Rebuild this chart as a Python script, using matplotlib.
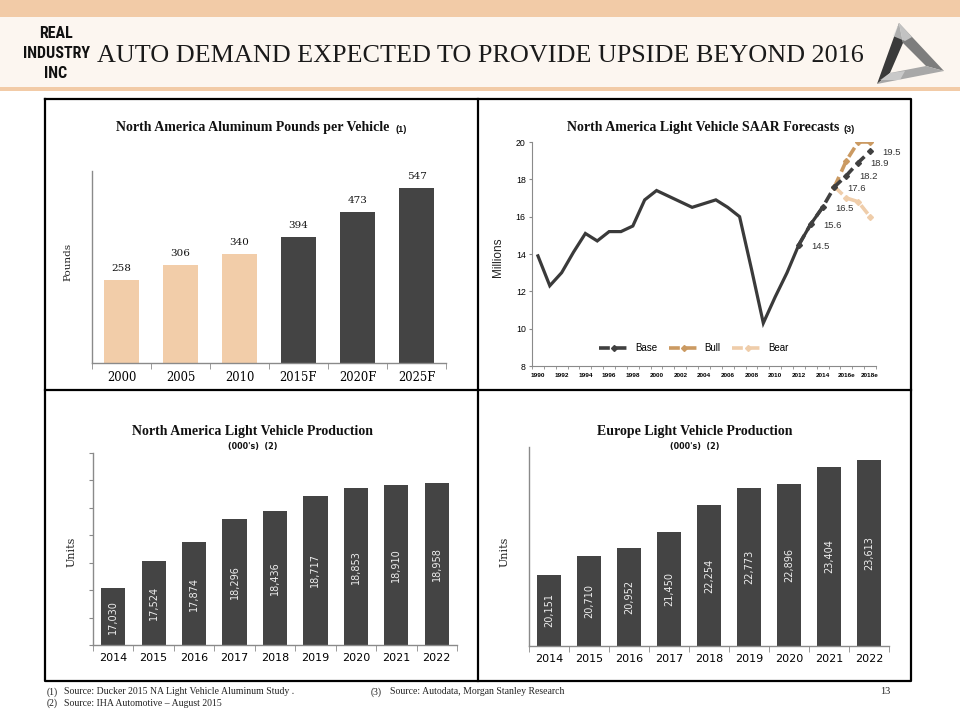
import matplotlib
matplotlib.use('Agg')
import matplotlib.pyplot as plt
from matplotlib.patches import Rectangle, Polygon
from matplotlib.lines import Line2D
from matplotlib import font_manager

# ---------------- data ----------------
ppv_categories = ['2000', '2005', '2010', '2015F', '2020F', '2025F']
ppv_values = [258, 306, 340, 394, 473, 547]
ppv_is_forecast = [False, False, False, True, True, True]

saar_years = list(range(1990, 2019))
saar_tick_labels = ['1990', '1992', '1994', '1996', '1998', '2000', '2002', '2004',
                    '2006', '2008', '2010', '2012', '2014', '2016e', '2018e']
saar_actual_years = list(range(1990, 2015))
saar_actual = [13.9, 12.3, 13.0, 14.1, 15.1, 14.7, 15.2, 15.2, 15.5, 16.9, 17.4, 17.1,
               16.8, 16.5, 16.7, 16.9, 16.5, 16.0, 13.2, 10.3, 11.7, 13.0, 14.5, 15.6, 16.5]
base_years = [2012, 2013, 2014, 2015, 2016, 2017, 2018]
base_values = [14.5, 15.6, 16.5, 17.6, 18.2, 18.9, 19.5]
bull_years = [2015, 2016, 2017, 2018]
bull_values = [17.6, 19.0, 20.0, 20.0]
bear_years = [2015, 2016, 2017, 2018]
bear_values = [17.6, 17.0, 16.8, 16.0]

prod_years = ['2014', '2015', '2016', '2017', '2018', '2019', '2020', '2021', '2022']
na_production = [17030, 17524, 17874, 18296, 18436, 18717, 18853, 18910, 18958]
eu_production = [20151, 20710, 20952, 21450, 22254, 22773, 22896, 23404, 23613]

# ---------------- styling ----------------
W, H = 960, 720
PEACH = '#F2CBA7'
CREAM = '#FCF6F0'
DARK = '#444444'
AXGRAY = '#8a8a8a'
SERIF = ['Liberation Serif', 'DejaVu Serif']
SANS = ['Liberation Sans', 'DejaVu Sans']

installed = {f.name for f in font_manager.fontManager.ttflist}
LOGO_FONT = next((f for f in ['Roboto Condensed', 'Liberation Sans Narrow', 'Roboto', 'DejaVu Sans']
                  if f in installed), 'DejaVu Sans')

fig = plt.figure(figsize=(W / 100, H / 100), dpi=100)
fig.patch.set_facecolor('white')

# background axes in pixel coordinates
bg = fig.add_axes([0, 0, 1, 1])
bg.set_xlim(0, W)
bg.set_ylim(H, 0)
bg.axis('off')
bg.set_zorder(0)

bg.add_patch(Rectangle((0, 0), W, 17, facecolor=PEACH, edgecolor='none'))
bg.add_patch(Rectangle((0, 17), W, 70, facecolor=CREAM, edgecolor='none'))
bg.add_patch(Rectangle((0, 87), W, 4, facecolor=PEACH, edgecolor='none'))

# left logo text
logo_size = 11.5 if LOGO_FONT in ('Roboto Condensed', 'Liberation Sans Narrow') else 9.8
for txt, yy in [('REAL', 33), ('INDUSTRY', 54), ('INC', 73)]:
    bg.text(56, yy, txt, ha='center', va='center', fontsize=logo_size, fontweight='heavy',
            family=LOGO_FONT, color='#111111')

# slide title
bg.text(97, 56, 'AUTO DEMAND EXPECTED TO PROVIDE UPSIDE BEYOND 2016', ha='left', va='center',
        fontsize=18.8, family=SERIF, color='#1a1a1a')

# right logo (metallic triangle ring)
outer = [(899, 23), (944, 71), (877, 84)]
inner = [(903, 43), (926, 66), (890, 73)]
bg.add_patch(Polygon([outer[0], outer[2], inner[2], inner[0]], closed=True, facecolor='#3a3a3a', edgecolor='none'))
bg.add_patch(Polygon([outer[0], outer[1], inner[1], inner[0]], closed=True, facecolor='#7d7d7d', edgecolor='none'))
bg.add_patch(Polygon([outer[1], outer[2], inner[2], inner[1]], closed=True, facecolor='#a8a8a8', edgecolor='none'))
bg.add_patch(Polygon([(899, 23), (912, 37), (905, 41), (893, 36)], closed=True, facecolor='#e0e0e0',
                     edgecolor='none', alpha=0.7))
bg.add_patch(Polygon([(880, 80), (890, 73), (905, 71), (900, 80)], closed=True, facecolor='#d8d8d8',
                     edgecolor='none', alpha=0.7))

# outer box and dividers
lw_box = 1.6
bg.plot([45, 911, 911, 45, 45], [99, 99, 681, 681, 99], color='black', lw=lw_box)
bg.plot([478, 478], [99, 681], color='black', lw=lw_box)
bg.plot([45, 911], [390, 390], color='black', lw=lw_box)

# footnotes
fn = dict(fontsize=7, family=SERIF, color='#222222', va='center', ha='left')
bg.text(47, 692, '(1)', **fn)
bg.text(64, 692, 'Source: Ducker 2015 NA Light Vehicle Aluminum Study .', **fn)
bg.text(47, 703, '(2)', **fn)
bg.text(64, 703, 'Source: IHA Automotive \u2013 August 2015', **fn)
bg.text(371, 692, '(3)', **fn)
bg.text(390, 692, 'Source: Autodata, Morgan Stanley Research', **fn)
bg.text(890, 692, '13', fontsize=7.5, family=SERIF, color='#222222', va='center', ha='right')


def add_ax(x0, y0, x1, y1):
    ax = fig.add_axes([x0 / W, 1 - y1 / H, (x1 - x0) / W, (y1 - y0) / H])
    ax.set_facecolor('none')
    ax.set_zorder(2)
    return ax


def style_cat_axis(ax, n, fontsize, family):
    ax.set_xlim(-0.5, n - 0.5)
    ax.set_xticks(range(n))
    ax.set_xticks([i - 0.5 for i in range(n + 1)], minor=True)
    ax.tick_params(axis='x', which='major', length=0, pad=6, labelsize=fontsize)
    ax.tick_params(axis='x', which='minor', length=4, color=AXGRAY, direction='out')
    for lab in ax.get_xticklabels():
        lab.set_family(family)
    for s in ['top', 'right']:
        ax.spines[s].set_visible(False)
    for s in ['left', 'bottom']:
        ax.spines[s].set_color(AXGRAY)
        ax.spines[s].set_linewidth(1.0)


TITLE_SIZE = 10

# ---------------- chart 1: pounds per vehicle ----------------
ax1 = add_ax(92, 171, 446, 363)
xs = list(range(len(ppv_categories)))
colors = [DARK if f else '#F2CDA9' for f in ppv_is_forecast]
ax1.bar(xs, ppv_values, width=0.58, color=colors)
ax1.set_ylim(0, 600)
ax1.set_yticks([])
ax1.set_xticks(xs)
ax1.set_xticklabels(ppv_categories)
style_cat_axis(ax1, len(ppv_categories), 8.3, ['DejaVu Serif'])
for x, v in zip(xs, ppv_values):
    ax1.annotate(str(v), (x, v), xytext=(0, 5), textcoords='offset points', ha='center',
                 va='bottom', fontsize=7.5, family='DejaVu Serif', color='#111111')
bg.text(253, 128, 'North America Aluminum Pounds per Vehicle', ha='center', va='center',
        fontsize=TITLE_SIZE, fontweight='bold', family=SERIF, color='#111111')
bg.text(396, 129, '(1)', ha='left', va='center', fontsize=6.5, fontweight='bold',
        family=SANS, color='#111111')
bg.text(68, 262, 'Pounds', rotation=90, ha='center', va='center', fontsize=7.5,
        family='DejaVu Serif', color='#222222')

# ---------------- chart 2: SAAR ----------------
ax2 = add_ax(532, 142, 876, 366)
idx = {y: i for i, y in enumerate(saar_years)}
ax2.plot([idx[y] for y in saar_actual_years], saar_actual, color='#3a3a3a', lw=2.3,
         solid_joinstyle='miter', zorder=3)
ax2.plot([idx[y] for y in bear_years], bear_values, color='#EFCDAA', lw=2.6,
         dashes=(3, 1.6), marker='D', markersize=3, zorder=4, clip_on=False)
ax2.plot([idx[y] for y in bull_years], bull_values, color='#CB9A62', lw=2.6,
         dashes=(3, 1.6), marker='D', markersize=3, zorder=5)
ax2.plot([idx[y] for y in base_years], base_values, color='#404040', lw=2.6,
         dashes=(3, 1.6), marker='D', markersize=3, zorder=6, clip_on=False)
for y, v in zip(base_years, base_values):
    ax2.annotate(f'{v:.1f}', (idx[y], v), xytext=(9, -1), textcoords='offset points',
                 ha='left', va='center', fontsize=6.8, family=SANS, color='#333333', zorder=7)
ax2.set_ylim(8, 20)
ax2.set_yticks(range(8, 21, 2))
ax2.tick_params(axis='y', length=2.5, color=AXGRAY, labelsize=6.3, pad=2)
for lab in ax2.get_yticklabels():
    lab.set_family(SANS)
ax2.set_xlim(-0.5, len(saar_years) - 0.5)
ax2.set_xticks([idx[y] for y in saar_years[::2]])
ax2.set_xticklabels(saar_tick_labels)
ax2.set_xticks([i - 0.5 for i in range(len(saar_years) + 1)], minor=True)
ax2.tick_params(axis='x', which='major', length=0, pad=5, labelsize=4.6)
ax2.tick_params(axis='x', which='minor', length=2.5, color=AXGRAY)
for lab in ax2.get_xticklabels():
    lab.set_family(SANS)
    lab.set_fontweight('bold')
for s in ['top', 'right']:
    ax2.spines[s].set_visible(False)
for s in ['left', 'bottom']:
    ax2.spines[s].set_color(AXGRAY)
handles = [
    Line2D([], [], color='#404040', lw=2.6, dashes=(3, 1.6), marker='D', markersize=3),
    Line2D([], [], color='#CB9A62', lw=2.6, dashes=(3, 1.6), marker='D', markersize=3),
    Line2D([], [], color='#EFCDAA', lw=2.6, dashes=(3, 1.6), marker='D', markersize=3),
]
leg = ax2.legend(handles, ['Base', 'Bull', 'Bear'], loc='center', bbox_to_anchor=(0.47, 0.08),
                 ncol=3, frameon=False, handlelength=3.2, columnspacing=1.2, handletextpad=0.5,
                 prop={'family': SANS, 'size': 7})
bg.text(703, 128, 'North America Light Vehicle SAAR Forecasts', ha='center', va='center',
        fontsize=TITLE_SIZE, fontweight='bold', family=SERIF, color='#111111')
bg.text(843, 129, '(3)', ha='left', va='center', fontsize=6.5, fontweight='bold',
        family=SANS, color='#111111')
bg.text(498, 257, 'Millions', rotation=90, ha='center', va='center', fontsize=8.5,
        family=SANS, color='#222222')

# ---------------- chart 3: NA production ----------------
ax3 = add_ax(93, 453, 457, 645)
xs = list(range(len(prod_years)))
ax3.bar(xs, na_production, width=0.6, color=DARK)
ax3.set_ylim(16000, 19500)
ax3.set_yticks(range(16000, 19501, 500))
ax3.set_yticklabels([])
ax3.tick_params(axis='y', length=3, color=AXGRAY)
ax3.set_xticks(xs)
ax3.set_xticklabels(prod_years)
style_cat_axis(ax3, len(prod_years), 8, ['DejaVu Sans'])
for x, v in zip(xs, na_production):
    ax3.text(x, (16000 + v) / 2, f'{v:,}', rotation=90, ha='center', va='center',
             fontsize=7, family='DejaVu Sans', color='#eeeeee')
bg.text(253, 431, 'North America Light Vehicle Production', ha='center', va='center',
        fontsize=TITLE_SIZE, fontweight='bold', family=SERIF, color='#111111')
bg.text(253, 447, "(000's)  (2)", ha='center', va='center', fontsize=5.8, fontweight='bold',
        family='DejaVu Sans', color='#111111')
bg.text(72, 552, 'Units', rotation=90, ha='center', va='center', fontsize=8,
        family='DejaVu Serif', color='#222222')

# ---------------- chart 4: Europe production ----------------
ax4 = add_ax(529, 447, 889, 646)
ax4.bar(xs, eu_production, width=0.58, color=DARK)
ax4.set_ylim(18000, 24000)
ax4.set_yticks([])
ax4.set_xticks(xs)
ax4.set_xticklabels(prod_years)
style_cat_axis(ax4, len(prod_years), 8, ['DejaVu Sans'])
for x, v in zip(xs, eu_production):
    ax4.text(x, (18000 + v) / 2, f'{v:,}', rotation=90, ha='center', va='center',
             fontsize=7, family='DejaVu Sans', color='#eeeeee')
bg.text(695, 431, 'Europe Light Vehicle Production', ha='center', va='center',
        fontsize=TITLE_SIZE, fontweight='bold', family=SERIF, color='#111111')
bg.text(695, 447, "(000's)  (2)", ha='center', va='center', fontsize=5.8, fontweight='bold',
        family='DejaVu Sans', color='#111111')
bg.text(505, 552, 'Units', rotation=90, ha='center', va='center', fontsize=8,
        family='DejaVu Serif', color='#222222')

fig.savefig('out.png', dpi=100, facecolor=fig.get_facecolor())
